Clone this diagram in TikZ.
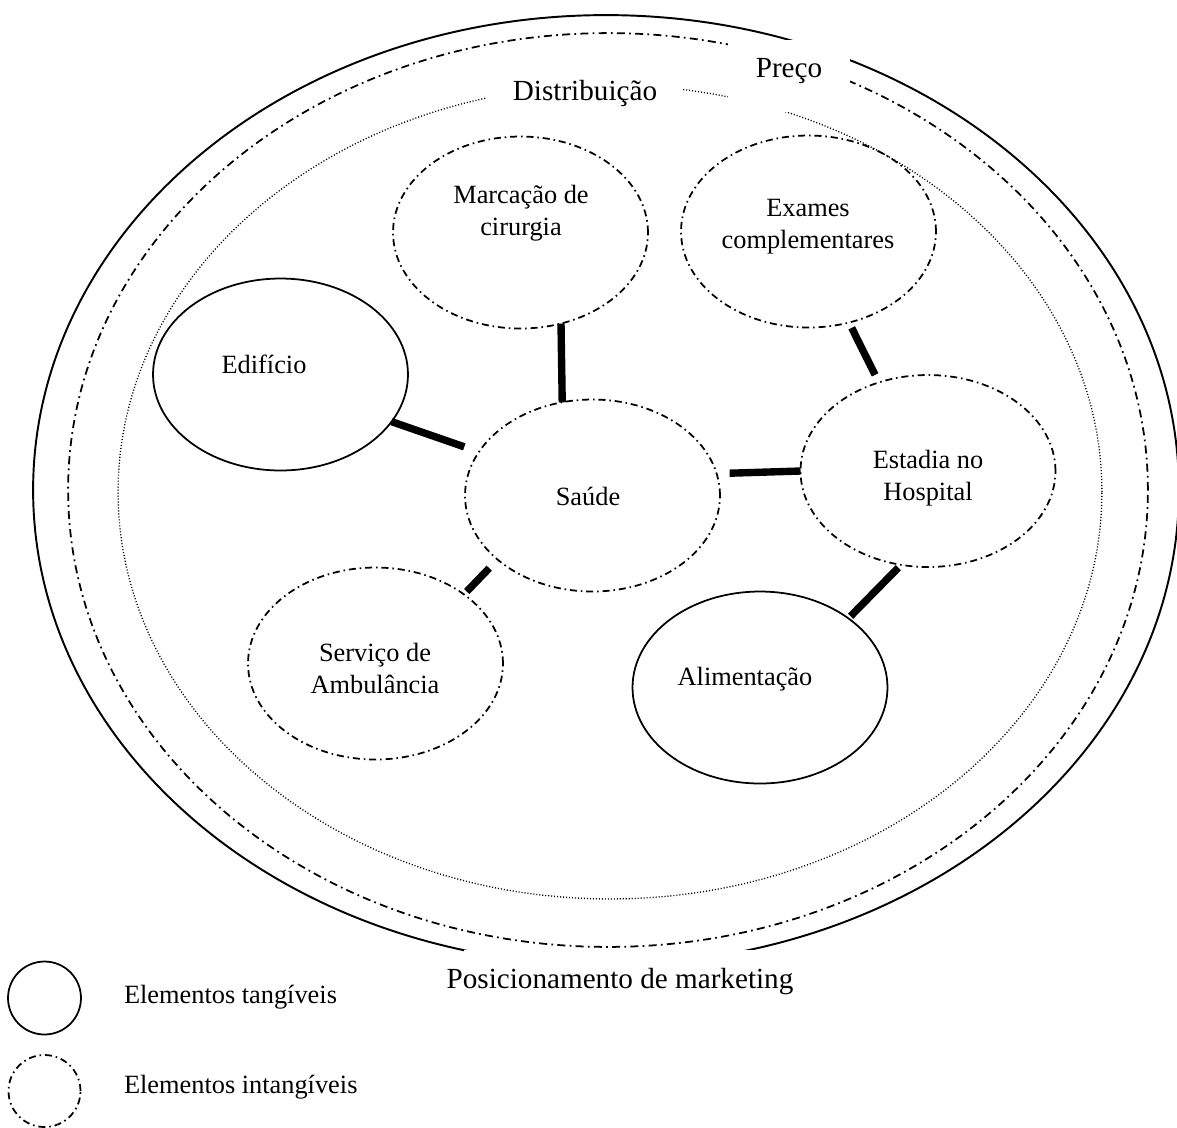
\documentclass[tikz,border=0pt]{standalone}
\usepackage{fontspec}
\setmainfont{Liberation Serif}
\usetikzlibrary{shapes.geometric}
\begin{document}
\begin{tikzpicture}[x=0.02cm, y=-0.02cm,
  every node/.style={inner sep=0pt, outer sep=0pt},
  dashdotline/.style={dash pattern=on 4pt off 2.2pt on 0.9pt off 2.2pt},
  ringdashdot/.style={dash pattern=on 4.6pt off 2.4pt on 1pt off 2.4pt},
  ringdotted/.style={dash pattern=on 0.6pt off 1.1pt},
  element/.style={ellipse, draw, line width=1pt, minimum width=5.1cm, minimum height=3.84cm},
  tangible/.style={element},
  intangible/.style={element, dashdotline},
  % multi-line labels are placed by the baseline of their last line
  lbl/.style={font=\fontsize{15}{17.8}\selectfont, align=center, anchor=base},
  ringlbl/.style={font=\fontsize{16.6}{20}\selectfont, anchor=base},
  legendlbl/.style={font=\fontsize{15}{18}\selectfont, anchor=base west},
  link/.style={line width=4.2pt}
]
\useasboundingbox (0,0) rectangle (1177,1127);

% three concentric rings
\node[ellipse, draw, line width=1.1pt, minimum width=22.92cm, minimum height=19cm] (posic) at (606,490) {};
\node[ellipse, draw, line width=1pt, ringdashdot, minimum width=21.6cm, minimum height=18.28cm] (preco) at (608,490) {};
\node[ellipse, draw, line width=0.75pt, ringdotted, minimum width=19.68cm, minimum height=16.28cm] (distr) at (610,492) {};

% white boxes behind the ring labels
\fill[white] (728,40) rectangle (850,112);
\fill[white] (487,58) rectangle (683,118);
\fill[white] (464,950) rectangle (754,1012);

\node[ringlbl] (preco-t) at (789,77) {Preço};
\node[ringlbl] (distr-t) at (585,100) {Distribuição};
\node[ringlbl] (posic-t) at (620,988) {Posicionamento de marketing};

% service elements
\node[intangible] (marc) at (520.5,232.5) {};
\node[intangible] (exam) at (808.5,231.5) {};
\node[tangible]   (edi)  at (280.5,374.5) {};
\node[intangible] (sau)  at (592.5,495.5) {};
\node[intangible] (est)  at (928,471) {};
\node[intangible] (serv) at (375.5,663.5) {};
\node[tangible]   (alim) at (760,687.5) {};

\node[lbl] (marc-t) at (521,235) {Marcação de\\cirurgia};
\node[lbl] (exam-t) at (808,248) {Exames\\complementares};
\node[lbl] (edi-t)  at (264,373) {Edifício};
\node[lbl] (sau-t)  at (588,505) {Saúde};
\node[lbl] (est-t)  at (928,500) {Estadia no\\Hospital};
\node[lbl] (serv-t) at (375,693) {Serviço de\\Ambulância};
\node[lbl] (alim-t) at (745,685) {Alimentação};

% links between elements
\draw[link] (marc.-66) -- (sau.108.6);
\draw[link, shorten >=0.31cm] (edi.-23.5) -- (sau.159.3);
\draw[link, shorten <=0.26cm] (sau.10.8) -- (est.180.4);
\draw[link, shorten <=0.24cm, shorten >=0.08cm] (sau.-146) -- (serv.38.5);
\draw[link, shorten <=0.12cm, shorten >=0.17cm] (exam.-66.3) -- (est.119.6);
\draw[link, shorten <=0.08cm, shorten >=0.06cm] (est.-106.6) -- (alim.38.6);

% legend
\node[circle, draw, line width=1pt, minimum size=1.46cm] (leg-tan) at (44.5,998) {};
\node[circle, draw, line width=1pt, dashdotline, minimum size=1.44cm] (leg-int) at (44.5,1091) {};
\node[legendlbl] (leg-tan-t) at (124,1003) {Elementos tangíveis};
\node[legendlbl] (leg-int-t) at (124,1093) {Elementos intangíveis};
\end{tikzpicture}
\end{document}
